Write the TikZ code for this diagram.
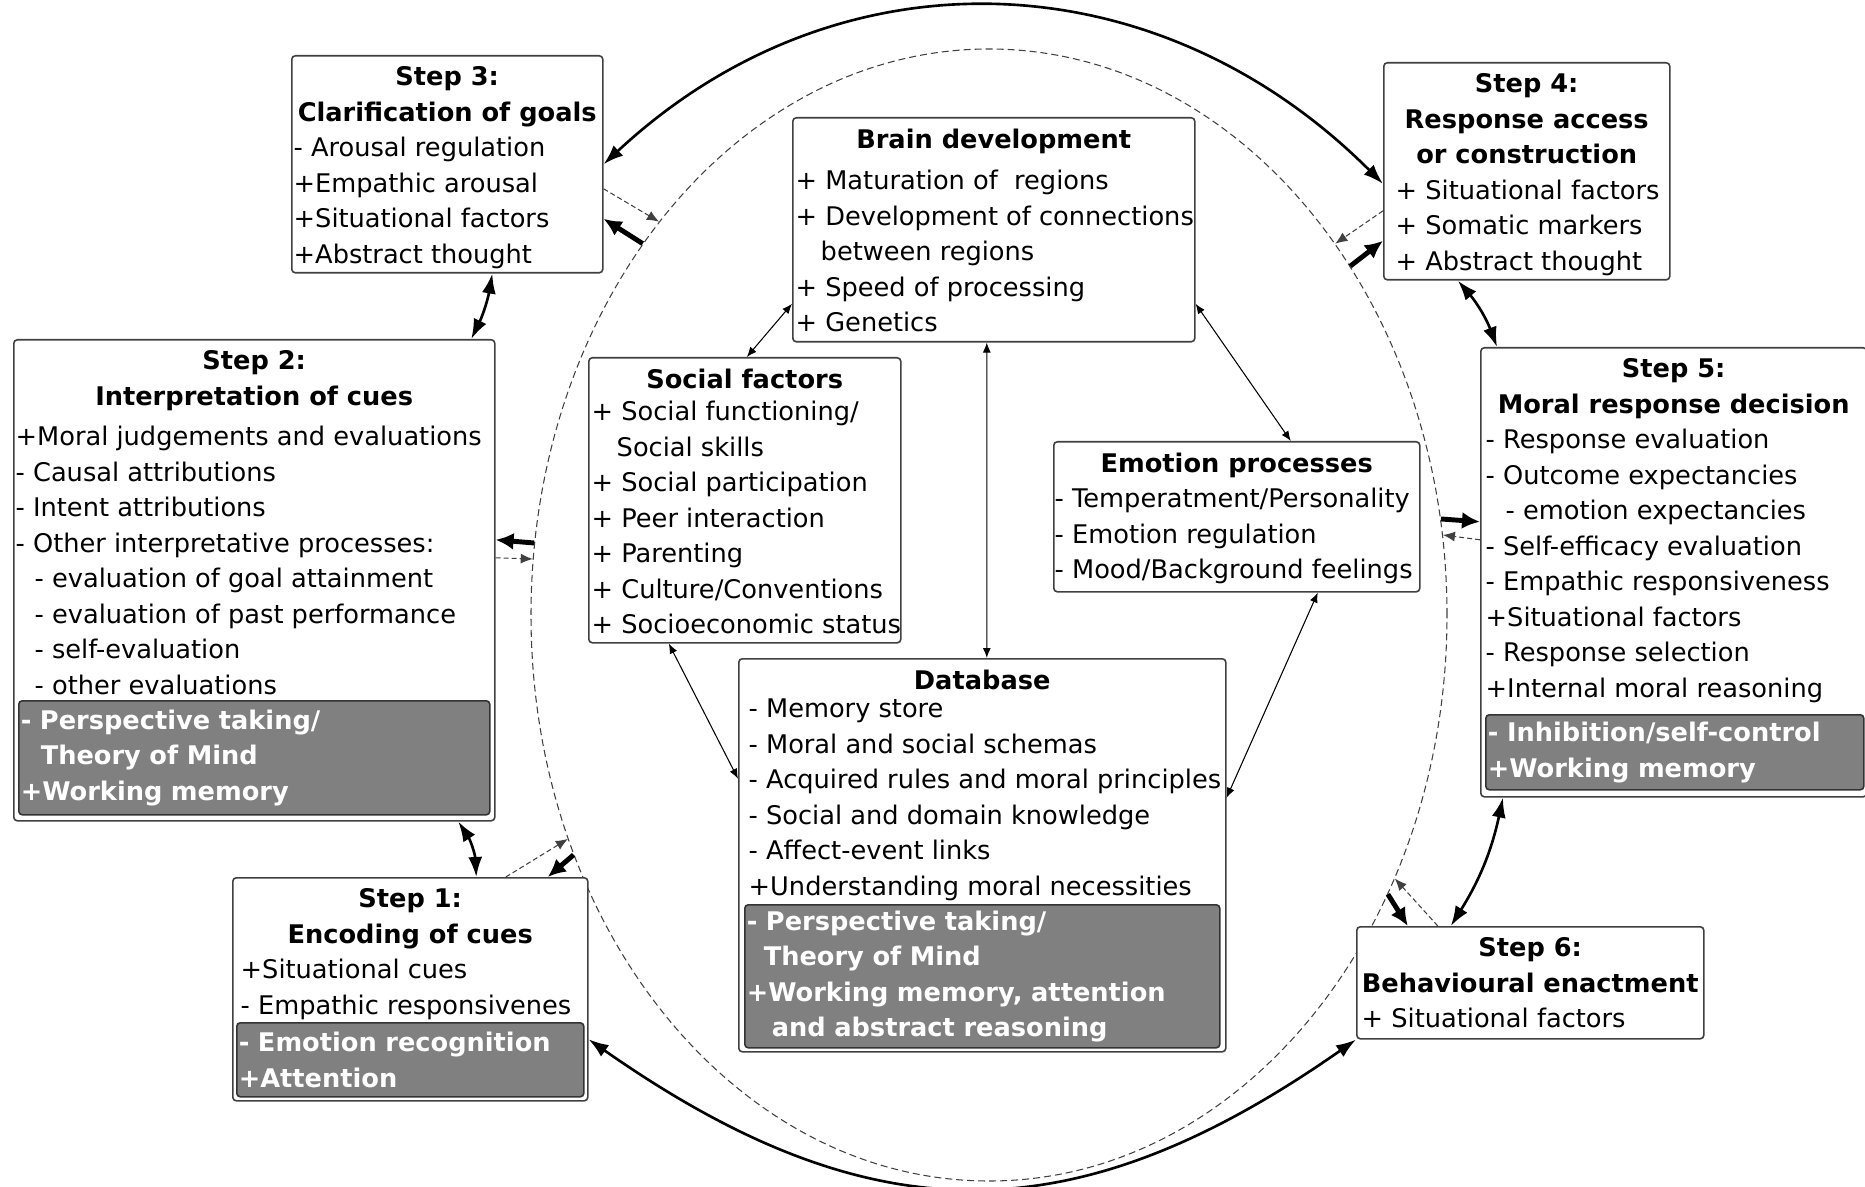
\documentclass[tikz,border=0pt]{standalone}
\usepackage{fontspec}
\setmainfont{DejaVu Sans}
\usetikzlibrary{arrows.meta,calc,shapes.geometric}
\newcommand\fs{\fontsize{7.3}{10.1}\selectfont}
\def\ttl#1#2{\makebox[#1cm]{\bfseries #2}}
\def\ind#1{\hspace*{#1cm}}

\begin{document}
\begin{tikzpicture}[
  frame/.style={draw=black!75, line width=0.45pt, rounded corners=1pt, fill=white, inner sep=0pt, anchor=north west},
  txt/.style={anchor=north west, align=left, inner xsep=0pt, inner ysep=0.11cm, font=\fs},
  gbox/.style={draw=black!80, line width=0.45pt, rounded corners=1pt, fill=black!50, text=white, font=\fs\bfseries, anchor=south west, inner xsep=0.02cm, inner ysep=0pt, align=left},
  link/.style={<->, >={Latex[length=1mm,width=0.8mm]}, line width=0.3pt},
  cyc/.style={<->, >={Latex[length=2mm,width=1.4mm]}, line width=0.75pt},
  fwd/.style={-{Latex[length=1.8mm,width=1.7mm]}, line width=1.4pt},
  back/.style={-{Latex[length=1.2mm,width=1mm]}, line width=0.3pt, black!75, dash pattern=on 0.5mm off 0.3mm},
]
\useasboundingbox (0,0) rectangle (18.65,-11.87);
\node[ellipse, draw=black!75, line width=0.3pt, dash pattern=on 0.7mm off 0.4mm, minimum width=9.16cm, minimum height=11.32cm, inner sep=0pt] (ell) at (9.89,-6.15) {};

% the six steps
\node[frame, minimum width=3.11cm, minimum height=2.17cm] (s3) at (2.91,-0.55) {};
\node[txt] (s3l) at ($(s3.north west)+(0.02,0)$) {\ttl{3.07}{Step 3:}\\ \ttl{3.07}{Clarification of goals}\\
  - Arousal regulation\\ +Empathic arousal\\ +Situational factors\\ +Abstract thought};

\node[frame, minimum width=4.81cm, minimum height=4.81cm] (s2) at (0.13,-3.39) {};
\node[txt] (s2l) at ($(s2.north west)+(0.02,0)$) {\ttl{4.77}{Step 2:}\\ \ttl{4.77}{Interpretation of cues}\\[0.05cm]
  +Moral judgements and evaluations\\ - Causal attributions\\ - Intent attributions\\
  - Other interpretative processes:\\ \ind{0.19}- evaluation of goal attainment\\
  \ind{0.19}- evaluation of past performance\\ \ind{0.19}- self-evaluation\\ \ind{0.19}- other evaluations};
\node[gbox, minimum width=4.71cm, minimum height=1.14cm, text width=4.67cm] (s2g) at ($(s2.south west)+(0.05,0.06)$)
  {- Perspective taking/\\ \ind{0.2}Theory of Mind\\ +Working memory};

\node[frame, minimum width=3.55cm, minimum height=2.23cm] (s1) at (2.32,-8.77) {};
\node[txt] (s1l) at ($(s1.north west)+(0.08,0)$) {\ttl{3.39}{Step 1:}\\ \ttl{3.39}{Encoding of cues}\\
  +Situational cues\\ - Empathic responsivenes};
\node[gbox, minimum width=3.47cm, minimum height=0.74cm, text width=3.43cm] (s1g) at ($(s1.south west)+(0.04,0.04)$)
  {- Emotion recognition\\ +Attention};

\node[frame, minimum width=2.86cm, minimum height=2.17cm] (s4) at (13.83,-0.62) {};
\node[txt] (s4l) at ($(s4.north west)+(0.12,0)$) {\ttl{2.62}{Step 4:}\\ \ttl{2.62}{Response access}\\ \ttl{2.62}{or construction}\\
  + Situational factors\\ + Somatic markers\\ + Abstract thought};

\node[frame, minimum width=3.86cm, minimum height=4.49cm] (s5) at (14.80,-3.47) {};
\node[txt] (s5l) at ($(s5.north west)+(0.05,0)$) {\ttl{3.76}{Step 5:}\\ \ttl{3.76}{Moral response decision}\\
  - Response evaluation\\ - Outcome expectancies\\ \ind{0.2}- emotion expectancies\\ - Self-efficacy evaluation\\
  - Empathic responsiveness\\ +Situational factors\\ - Response selection\\ +Internal moral reasoning};
\node[gbox, minimum width=3.78cm, minimum height=0.75cm, text width=3.74cm] (s5g) at ($(s5.south west)+(0.05,0.07)$)
  {- Inhibition/self-control\\ +Working memory};

\node[frame, minimum width=3.47cm, minimum height=1.12cm] (s6) at (13.56,-9.26) {};
\node[txt] (s6l) at ($(s6.north west)+(0.05,0)$) {\ttl{3.37}{Step 6:}\\ \ttl{3.37}{Behavioural enactment}\\
  + Situational factors};

% inner factors
\node[frame, minimum width=4.02cm, minimum height=2.24cm] (brain) at (7.92,-1.17) {};
\node[txt] (brainl) at ($(brain.north west)+(0.03,0)$) {\ttl{3.96}{Brain development}\\[0.06cm]
  + Maturation of \ regions\\ + Development of connections\\ \ind{0.25}between regions\\ + Speed of processing\\ + Genetics};

\node[frame, minimum width=3.12cm, minimum height=2.85cm] (social) at (5.88,-3.57) {};
\node[txt] (sociall) at ($(social.north west)+(0.03,0)$) {\ttl{3.06}{Social factors}\\[-0.03cm]
  + Social functioning/\\ \ind{0.25}Social skills\\ + Social participation\\ + Peer interaction\\
  + Parenting\\ + Culture/Conventions\\ + Socioeconomic status};

\node[frame, minimum width=3.66cm, minimum height=1.50cm] (emo) at (10.53,-4.41) {};
\node[txt] (emol) at ($(emo.north west)+(0.01,0)$) {\ttl{3.64}{Emotion processes}\\
  - Temperatment/Personality\\ - Emotion regulation\\ - Mood/Background feelings};

\node[frame, minimum width=4.87cm, minimum height=3.93cm] (db) at (7.38,-6.58) {};
\node[txt] (dbl) at ($(db.north west)+(0.10,0)$) {\ttl{4.67}{Database}\\[-0.07cm]
  - Memory store\\ - Moral and social schemas\\ - Acquired rules and moral principles\\
  - Social and domain knowledge\\ - Affect-event links\\ +Understanding moral necessities};
\node[gbox, minimum width=4.75cm, minimum height=1.43cm, text width=4.71cm] (dbg) at ($(db.south west)+(0.06,0.04)$)
  {- Perspective taking/\\ \ind{0.17}Theory of Mind\\ +Working memory, attention\\ \ind{0.25}and abstract reasoning};

% cycle
\draw[cyc] (s3.east) to[out=43,in=135,looseness=1.05] (s4.185);
\draw[cyc] ($(s1.east)+(0,-0.5)$) to[out=-35,in=-145,looseness=1.15] (s6.south west);
\draw[cyc] ($(s3.south)+(0.45,0)$) to[bend left=8] ($(s2.north)+(2.17,0)$);
\draw[cyc] ($(s2.south)+(2.04,0)$) to[bend left=15] ($(s1.north)+(0.66,0)$);
\draw[cyc] ($(s4.south)+(-0.69,0)$) to[bend left=10] ($(s5.north west)+(0.17,0)$);
\draw[cyc] ($(s5.south west)+(0.23,0)$) to[bend left=10] ($(s6.north)+(-0.795,0)$);

% to and from the ring
\draw[fwd] (ell.133) -- ($(s3.east)+(0,-0.545)$);
\draw[back] ($(s3.east)+(0,-0.245)$) -- (ell.130);
\draw[fwd] (ell.44) -- ($(s4.west)+(0,-0.695)$);
\draw[back] ($(s4.west)+(0,-0.395)$) -- (ell.47);
\draw[fwd] (ell.171) -- ($(s2.east)+(0,0.405)$);
\draw[back] ($(s2.east)+(0,0.225)$) -- (ell.173);
\draw[fwd] (ell.12) -- ($(s5.west)+(0,0.505)$);
\draw[back] ($(s5.west)+(0,0.325)$) -- (ell.10);
\draw[fwd] (ell.210) -- ($(s1.north)+(1.375,0)$);
\draw[back] ($(s1.north)+(0.955,0)$) -- (ell.208);
\draw[fwd] (ell.325) -- ($(s6.north)+(-1.225,0)$);
\draw[back] ($(s6.north)+(-0.925,0)$) -- (ell.327);

% inside the ring
\draw[link] ($(brain.west)+(0,-0.74)$) -- ($(social.north)+(0.02,0)$);
\draw[link] ($(brain.south)+(-0.07,0)$) -- ($(db.north)+(0.045,0)$);
\draw[link] ($(brain.east)+(0,-0.74)$) -- ($(emo.north)+(0.54,0)$);
\draw[link] ($(social.south)+(-0.76,0)$) -- ($(db.west)+(0,0.765)$);
\draw[link] ($(emo.south)+(0.81,0)$) -- ($(db.east)+(0,0.575)$);
\end{tikzpicture}
\end{document}
